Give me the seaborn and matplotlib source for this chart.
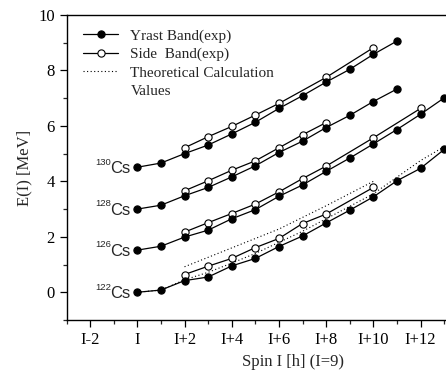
import numpy as np
import pandas as pd
import matplotlib
matplotlib.use("Agg")
import matplotlib.pyplot as plt
from matplotlib.lines import Line2D
from matplotlib.ticker import MultipleLocator
import seaborn as sns

# spin offsets relative to I (I=9)
x_short = list(range(0, 12))
x_long = list(range(0, 14))

cs130_yrast = [4.51, 4.66, 5.00, 5.31, 5.71, 6.13, 6.63, 7.09, 7.58, 8.04, 8.58, 9.06]
cs130_side_x = [2, 3, 4, 5, 6, 8, 10]
cs130_side = [5.21, 5.61, 5.98, 6.39, 6.81, 7.75, 8.82]

cs128_yrast = [3.00, 3.14, 3.48, 3.78, 4.16, 4.56, 5.04, 5.45, 5.94, 6.38, 6.88, 7.33]
cs128_side_x = [2, 3, 4, 5, 6, 7, 8]
cs128_side = [3.66, 4.02, 4.40, 4.74, 5.21, 5.68, 6.12]

cs126_yrast = [1.52, 1.66, 1.99, 2.24, 2.65, 2.98, 3.46, 3.87, 4.36, 4.84, 5.35, 5.87, 6.42, 7.01]
cs126_side_x = [2, 3, 4, 5, 6, 7, 8, 10, 12]
cs126_side = [2.17, 2.51, 2.84, 3.18, 3.62, 4.10, 4.55, 5.57, 6.63]

cs122_yrast = [0.00, 0.08, 0.42, 0.55, 0.95, 1.22, 1.65, 2.03, 2.50, 2.96, 3.44, 4.02, 4.47, 5.15]
cs122_side_x = [2, 3, 4, 5, 6, 7, 8, 10]
cs122_side = [0.64, 0.94, 1.22, 1.61, 1.94, 2.48, 2.82, 3.78]

# theoretical values (122Cs)
th_yrast = [0.00, 0.08, 0.45, 0.72, 1.05, 1.40, 1.80, 2.20, 2.65, 3.10, 3.55, 4.15, 4.75, 5.25]
th_side_x = [2, 3, 4, 5, 6, 7, 8, 9, 10]
th_side = [0.92, 1.26, 1.60, 1.94, 2.28, 2.70, 3.12, 3.56, 4.00]

isotopes = ["130", "128", "126", "122"]
tick_pos = [-2, 0, 2, 4, 6, 8, 10, 12]
tick_lab = ["I-2", "I", "I+2", "I+4", "I+6", "I+8", "I+10", "I+12"]

sns.set_theme(style="ticks")
plt.rcParams["font.family"] = ["Liberation Serif", "DejaVu Serif"]

fig = plt.figure(figsize=(4.46, 3.76), dpi=100)
ax = fig.add_axes([66.5 / 446, 56 / 376, 380 / 446, 305 / 376])

yrast_kw = dict(color="black", lw=0.9, marker="o", markersize=5.2,
                markerfacecolor="black", markeredgecolor="black", markeredgewidth=0.8)
side_kw = dict(color="black", lw=0.9, marker="o", markersize=5.2,
               markerfacecolor="white", markeredgecolor="black", markeredgewidth=0.8)
th_kw = dict(color="black", lw=0.8, dashes=(1, 2.2))

yrast_sets = [(x_short, cs130_yrast), (x_short, cs128_yrast), (x_long, cs126_yrast), (x_long, cs122_yrast)]
side_sets = [(cs130_side_x, cs130_side), (cs128_side_x, cs128_side), (cs126_side_x, cs126_side), (cs122_side_x, cs122_side)]

sns.lineplot(x=x_long, y=th_yrast, ax=ax, **th_kw)
sns.lineplot(x=th_side_x, y=th_side, ax=ax, **th_kw)

for (xs, ys) in side_sets:
    sns.lineplot(x=xs, y=ys, ax=ax, **side_kw)
for (xs, ys) in yrast_sets:
    sns.lineplot(x=xs, y=ys, ax=ax, **yrast_kw)

# isotope labels: "Cs" plus a small mass number
for iso, (xs, ys) in zip(isotopes, yrast_sets):
    ax.text(-0.28, ys[0] - 0.05, "Cs", ha="right", va="center",
            fontsize=12, family="Liberation Sans")
    ax.annotate(iso, xy=(-0.28, ys[0]), xytext=(-14.3, 0.5), textcoords="offset points",
                ha="right", va="bottom", fontsize=6.8, family="Liberation Sans")

ax.set_xlim(-3, 13.1)
ax.set_ylim(-1, 10)
ax.set_xticks(tick_pos)
ax.set_xticklabels(tick_lab)
ax.xaxis.set_minor_locator(MultipleLocator(1))
ax.yaxis.set_major_locator(MultipleLocator(2))
ax.yaxis.set_minor_locator(MultipleLocator(1))
ax.tick_params(which="major", direction="out", length=5, width=0.9, labelsize=12, colors="black")
ax.tick_params(which="minor", direction="out", length=3, width=0.9)
for s in ax.spines.values():
    s.set_linewidth(1.0)
    s.set_color("black")

ax.set_ylabel("E(I) [MeV]", fontsize=12)
ax.set_xlabel("Spin I [h] (I=9)", fontsize=12)
ax.xaxis.set_label_coords((293 - 66.5) / 380, -0.11)

handles = [
    Line2D([], [], **yrast_kw),
    Line2D([], [], **side_kw),
    Line2D([], [], **th_kw),
    Line2D([], [], lw=0, color="none"),
]
labels = ["Yrast Band(exp)", "Side  Band(exp)", "Theoretical Calculation", "Values"]
ax.legend(handles, labels, loc="upper left", bbox_to_anchor=(83 / 446, 1 - 29 / 376),
          bbox_transform=fig.transFigure, frameon=False, fontsize=11, handlelength=2.3,
          handletextpad=0.8, labelspacing=0.3, borderpad=0, borderaxespad=0, numpoints=1)

fig.savefig("out.png", dpi=100)
